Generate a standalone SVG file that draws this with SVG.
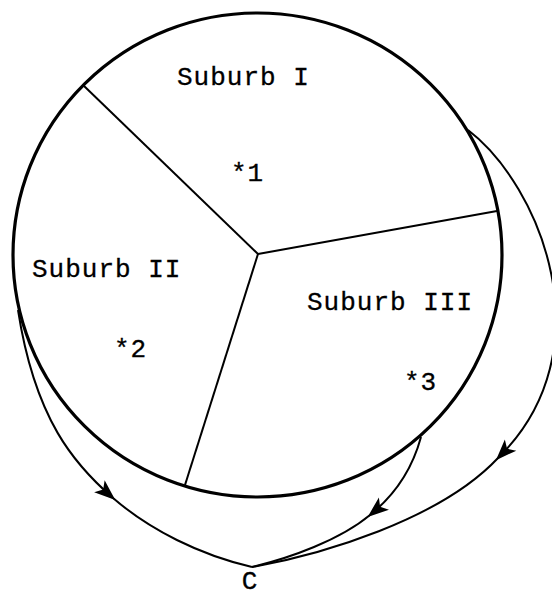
<svg xmlns="http://www.w3.org/2000/svg" width="552" height="597" viewBox="0 0 552 597">
<style>
.lbl{font-family:"Liberation Mono","DejaVu Sans Mono",monospace;font-size:26px;letter-spacing:1px;fill:#000;stroke:#000;stroke-width:0.3}
.arrow{fill:none;stroke:#000;stroke-width:2;marker-mid:url(#ah)}
.spoke{stroke:#000;stroke-width:2;fill:none}
</style>
<defs>
<marker id="ah" markerUnits="userSpaceOnUse" markerWidth="26" markerHeight="18" viewBox="-22 -9 26 18" refX="0" refY="0" orient="auto">
<path d="M3,0 L-18,-8 L-13,0 L-18,8 Z" fill="#000"/>
</marker>
</defs>
<rect width="552" height="597" fill="#fff"/>
<g id="city">
<ellipse cx="257.5" cy="255" rx="244.5" ry="242" fill="none" stroke="#000" stroke-width="3.2"/>
</g>
<g id="dividers">
<line class="spoke" x1="258" y1="254" x2="83" y2="85"/>
<line class="spoke" x1="258" y1="254" x2="497" y2="211"/>
<line class="spoke" x1="258" y1="254" x2="185" y2="485"/>
</g>
<g id="suburb1"><text class="lbl" x="177" y="85">Suburb I</text><text class="lbl" x="231" y="181">*1</text></g>
<g id="suburb2"><text class="lbl" x="32" y="277">Suburb II</text><text class="lbl" x="114" y="357">*2</text></g>
<g id="suburb3"><text class="lbl" x="307" y="310">Suburb III</text><text class="lbl" x="404" y="390">*3</text></g>
<g id="nodeC"><text class="lbl" x="250" y="589" text-anchor="middle">C</text></g>
<g id="connectors">
<path class="arrow" d="M 18 310 C 35 420, 75 465, 113 498 C 150 530, 200 555, 252 567"/>
<path class="arrow" d="M 421 437 C 412 470, 395 495, 370 515 C 340 540, 290 558, 252 567"/>
<path class="arrow" d="M 468 130 C 540 185, 608 350, 498 458 C 440 520, 320 555, 252 567"/>
</g>
</svg>
